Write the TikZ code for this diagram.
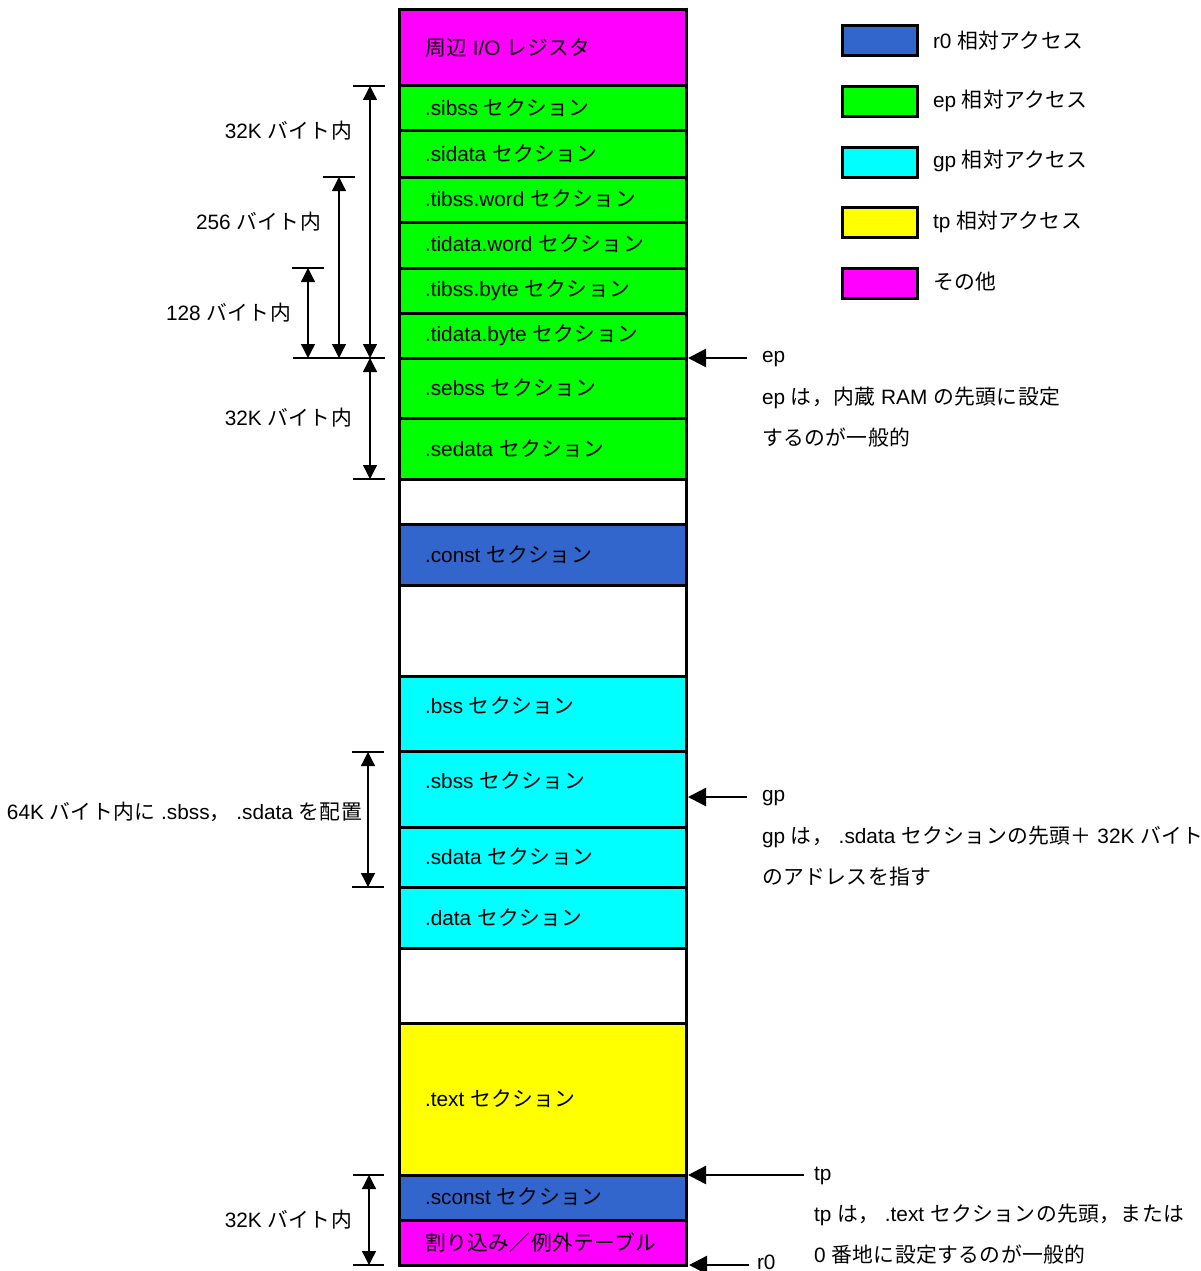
\documentclass[tikz,border=0pt]{standalone}
\usepackage{fontspec}
\setmainfont{Liberation Sans}
\newfontfamily\jp[LetterSpace=2]{Noto Sans CJK JP}
\usetikzlibrary{arrows.meta}
\definecolor{secBlue}{HTML}{3366CC}
\definecolor{secGreen}{HTML}{00FF00}
\definecolor{secCyan}{HTML}{00FFFF}
\definecolor{secYellow}{HTML}{FFFF00}
\definecolor{secMagenta}{HTML}{FF00FF}
\begin{document}
\begin{tikzpicture}[x=1pt,y=-1pt,
  every node/.style={font=\fontsize{20.8}{24}\selectfont, inner sep=0pt, outer sep=0pt},
  row/.style={draw, line width=3pt, minimum width=287pt, anchor=north west},
  lbl/.style={anchor=west},
  rlbl/.style={anchor=east},
  legbox/.style={draw, line width=3pt, minimum width=75pt, minimum height=30pt, anchor=north west},
  tick/.style={line width=1.3pt},
  dimarrow/.style={line width=1.3pt, {Triangle[length=14pt,width=14pt]}-{Triangle[length=14pt,width=14pt]}},
  ptr/.style={line width=2.5pt, -{Triangle[length=18pt,width=18pt]}}]
\useasboundingbox (0,0) rectangle (1201,1271);

% memory map column
\node[row, fill=secMagenta, minimum height=76] (io)      at (399,10)   {};
\node[row, fill=secGreen,   minimum height=45] (sibss)   at (399,86)   {};
\node[row, fill=secGreen,   minimum height=46] (sidata)  at (399,131)  {};
\node[row, fill=secGreen,   minimum height=45] (tibssw)  at (399,177)  {};
\node[row, fill=secGreen,   minimum height=46] (tidataw) at (399,222)  {};
\node[row, fill=secGreen,   minimum height=45] (tibssb)  at (399,268)  {};
\node[row, fill=secGreen,   minimum height=45] (tidatab) at (399,313)  {};
\node[row, fill=secGreen,   minimum height=60] (sebss)   at (399,358)  {};
\node[row, fill=secGreen,   minimum height=61] (sedata)  at (399,418)  {};
\node[row, fill=white,      minimum height=45] (gapa)    at (399,479)  {};
\node[row, fill=secBlue,    minimum height=61] (const)   at (399,524)  {};
\node[row, fill=white,      minimum height=91] (gapb)    at (399,585)  {};
\node[row, fill=secCyan,    minimum height=75] (bss)     at (399,676)  {};
\node[row, fill=secCyan,    minimum height=76] (sbss)    at (399,751)  {};
\node[row, fill=secCyan,    minimum height=60] (sdata)   at (399,827)  {};
\node[row, fill=secCyan,    minimum height=61] (data)    at (399,887)  {};
\node[row, fill=white,      minimum height=75] (gapc)    at (399,948)  {};
\node[row, fill=secYellow,  minimum height=152] (text)   at (399,1023) {};
\node[row, fill=secBlue,    minimum height=45] (sconst)  at (399,1175) {};
\node[row, fill=secMagenta, minimum height=45] (intr)    at (399,1220) {};

% section names
\node[lbl] (tio)      at (425,48)   {{\jp 周辺} I/O {\jp レジスタ}};
\node[lbl] (tsibss)   at (425,108)  {.sibss {\jp セクション}};
\node[lbl] (tsidata)  at (425,154)  {.sidata {\jp セクション}};
\node[lbl] (ttibssw)  at (425,199)  {.tibss.word {\jp セクション}};
\node[lbl] (ttidataw) at (425,244)  {.tidata.word {\jp セクション}};
\node[lbl] (ttibssb)  at (425,290)  {.tibss.byte {\jp セクション}};
\node[lbl] (ttidatab) at (425,335)  {.tidata.byte {\jp セクション}};
\node[lbl] (tsebss)   at (425,388)  {.sebss {\jp セクション}};
\node[lbl] (tsedata)  at (425,449)  {.sedata {\jp セクション}};
\node[lbl] (tconst)   at (425,555)  {.const {\jp セクション}};
\node[lbl] (tbss)     at (425,706)  {.bss {\jp セクション}};
\node[lbl] (tsbss)    at (425,781)  {.sbss {\jp セクション}};
\node[lbl] (tsdata)   at (425,857)  {.sdata {\jp セクション}};
\node[lbl] (tdata)    at (425,918)  {.data {\jp セクション}};
\node[lbl] (ttext)    at (425,1099) {.text {\jp セクション}};
\node[lbl] (tsconst)  at (425,1197) {.sconst {\jp セクション}};
\node[lbl] (tintr)    at (425,1242) {{\jp 割り込み／例外テーブル}};

% legend
\node[legbox, fill=secBlue]    (lgA) at (842,26)  {};
\node[legbox, fill=secGreen]   (lgB) at (842,87)  {};
\node[legbox, fill=secCyan]    (lgC) at (842,147) {};
\node[legbox, fill=secYellow]  (lgD) at (842,207) {};
\node[legbox, fill=secMagenta] (lgE) at (842,268) {};
\node[lbl] (ltA) at (933,41)  {r0 {\jp 相対アクセス}};
\node[lbl] (ltB) at (933,101) {ep {\jp 相対アクセス}};
\node[lbl] (ltC) at (933,161) {gp {\jp 相対アクセス}};
\node[lbl] (ltD) at (933,222) {tp {\jp 相対アクセス}};
\node[lbl] (ltE) at (933,282) {{\jp その他}};

% range markers on the left
\coordinate (kTopA)  at (353,86);
\coordinate (kTopAe) at (385,86);
\coordinate (kTopB)  at (323,177);
\coordinate (kTopBe) at (355,177);
\coordinate (kTopC)  at (292,268);
\coordinate (kTopCe) at (324,268);
\coordinate (kEp)    at (293,358);
\coordinate (kEpe)   at (385,358);
\coordinate (kBotE)  at (353,479);
\coordinate (kBotEe) at (385,479);
\draw[tick] (kTopA) -- (kTopAe);
\draw[tick] (kTopB) -- (kTopBe);
\draw[tick] (kTopC) -- (kTopCe);
\draw[tick] (kEp) -- (kEpe);
\draw[tick] (kBotE) -- (kBotEe);
\coordinate (aA1) at (370,86);  \coordinate (aA2) at (370,358);
\coordinate (aB1) at (339,177); \coordinate (aB2) at (339,358);
\coordinate (aC1) at (308,268); \coordinate (aC2) at (308,358);
\coordinate (aE1) at (370,358); \coordinate (aE2) at (370,479);
\draw[dimarrow] (aA1) -- (aA2);
\draw[dimarrow] (aB1) -- (aB2);
\draw[dimarrow] (aC1) -- (aC2);
\draw[dimarrow] (aE1) -- (aE2);
\node[rlbl] (dA) at (352,131) {32K {\jp バイト内}};
\node[rlbl] (dB) at (321,222) {256 {\jp バイト内}};
\node[rlbl] (dC) at (291,313) {128 {\jp バイト内}};
\node[rlbl] (dE) at (352,418) {32K {\jp バイト内}};

\coordinate (kG1) at (352,752); \coordinate (kG1e) at (384,752);
\coordinate (kG2) at (352,887); \coordinate (kG2e) at (384,887);
\draw[tick] (kG1) -- (kG1e);
\draw[tick] (kG2) -- (kG2e);
\coordinate (aG1) at (368,752); \coordinate (aG2) at (368,887);
\draw[dimarrow] (aG1) -- (aG2);
\node[rlbl] (dG) at (362,812) {64K {\jp バイト内に} .sbss{\jp ，} .sdata {\jp を配置}};

\coordinate (kT1) at (353,1175); \coordinate (kT1e) at (384,1175);
\coordinate (kT2) at (353,1265); \coordinate (kT2e) at (384,1265);
\draw[tick] (kT1) -- (kT1e);
\draw[tick] (kT2) -- (kT2e);
\coordinate (aT1) at (369,1175); \coordinate (aT2) at (369,1265);
\draw[dimarrow] (aT1) -- (aT2);
\node[rlbl] (dT) at (352,1220) {32K {\jp バイト内}};

% pointer registers on the right
\coordinate (pEp) at (747,358);
\coordinate (pGp) at (747,797);
\coordinate (pTp) at (804,1175);
\coordinate (pR0) at (749,1265);
\draw[ptr, shorten >=2pt] (pEp) -- (sebss.north east);
\draw[ptr, shorten >=2pt] (pGp) -- (sbss.east |- pGp);
\draw[ptr, shorten >=2pt] (pTp) -- (sconst.north east);
\draw[ptr, shorten >=3pt] (pR0) -- (intr.south east);

\node[lbl] (nEp)  at (762,359)  {ep};
\node[lbl] (nEp1) at (762,398)  {ep {\jp は，内蔵} RAM {\jp の先頭に設定}};
\node[lbl] (nEp2) at (762,438)  {{\jp するのが一般的}};
\node[lbl] (nGp)  at (762,798)  {gp};
\node[lbl] (nGp1) at (762,837)  {gp {\jp は，} .sdata {\jp セクションの先頭＋} 32K {\jp バイト}};
\node[lbl] (nGp2) at (762,877)  {{\jp のアドレスを指す}};
\node[lbl] (nTp)  at (814,1176) {tp};
\node[lbl] (nTp1) at (814,1215) {tp {\jp は，} .text {\jp セクションの先頭，または}};
\node[lbl] (nTp2) at (814,1255) {0 {\jp 番地に設定するのが一般的}};
\node[lbl] (nR0)  at (757,1262) {r0};
\end{tikzpicture}
\end{document}
